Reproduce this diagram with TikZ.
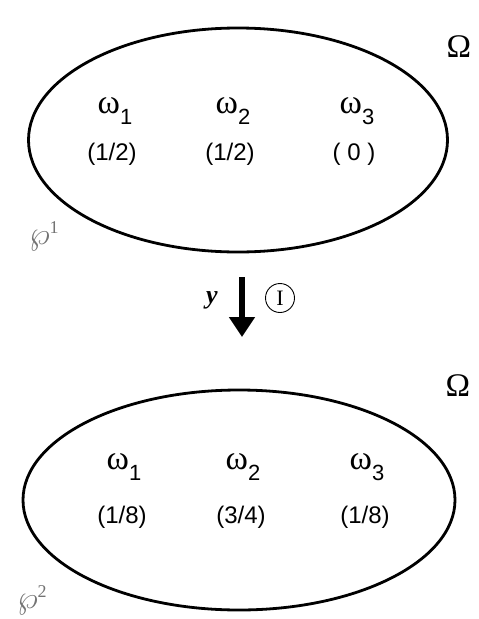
\documentclass[tikz,border=0pt]{standalone}
\usepackage{fontspec}
\usepackage{graphicx}
\setmainfont{Liberation Sans}
\newfontfamily\serfont{Liberation Serif}
\usetikzlibrary{arrows.meta,shapes.geometric}

% omega with its index
\newcommand{\omi}[1]{{\serfont\fontsize{34}{34}\selectfont ω}\raisebox{-11pt}{\fontsize{22}{22}\selectfont #1}}
% weierstrass p with its index
\newcommand{\wpi}[1]{\scalebox{3.2}{$\wp$}\raisebox{11pt}{\fontsize{18}{18}\selectfont\serfont #1}}

\begin{document}
\begin{tikzpicture}[x=1pt,y=-1pt,
  space/.style={draw,ellipse,line width=2.8pt,inner sep=0pt},
  om/.style={inner sep=0pt},
  pr/.style={inner sep=0pt,font=\fontsize{24}{26}\selectfont},
  capom/.style={inner sep=0pt,font=\serfont\fontsize{33}{34}\selectfont},
  wpl/.style={inner sep=0pt,black!55}]
\useasboundingbox (0,0) rectangle (479,619);
% first probability space
\node[space,minimum width=419pt,minimum height=224pt] (top) at (238,140) {};
\node[capom] (omtop) at (459,47) {Ω};
\foreach \x/\y/\i/\p in {115/111/1/{(1/2)},233/111/2/{(1/2)},357/111/3/{( 0 )}}{
  \node[om] (wa\i) at (\x,\y) {\omi{\i}};
  \node[pr] (pa\i) at (\x-3,154) {\p};
}
\node[wpl] (wp1) at (44,236) {\wpi{1}};
% transition
\coordinate (ys) at (242,277);
\coordinate (ye) at (242,337);
\draw[line width=5.5pt,-{Triangle[width=25pt,length=20pt]}] (ys)--(ye);
\node[inner sep=0pt,font=\serfont\bfseries\itshape\fontsize{26}{28}\selectfont] (ylab) at (212,300) {y};
\node[draw,circle,minimum size=29pt,inner sep=0pt,line width=0.9pt,font=\serfont\fontsize{22}{22}\selectfont] (one) at (280,298) {I};
% second probability space
\node[space,minimum width=432pt,minimum height=220pt] (bot) at (239,500) {};
\node[capom] (ombot) at (458,386) {Ω};
\foreach \x/\i/\p in {124/1/{(1/8)},243/2/{(3/4)},367/3/{(1/8)}}{
  \node[om] (wb\i) at (\x,467) {\omi{\i}};
  \node[pr] (pb\i) at (\x-2,517) {\p};
}
\node[wpl] (wp2) at (32,600) {\wpi{2}};
\end{tikzpicture}
\end{document}
